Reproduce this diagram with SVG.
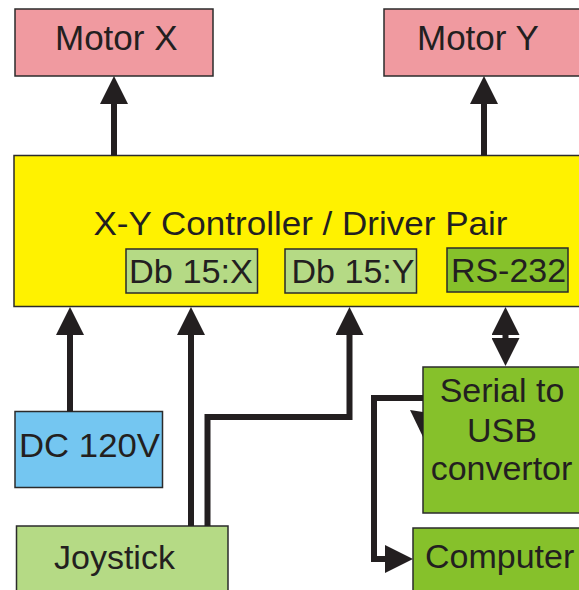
<svg xmlns="http://www.w3.org/2000/svg" width="579" height="590" viewBox="0 0 579 590">
  <defs>
    <style>
      .box { stroke: #2b2b2b; stroke-width: 1.5; }
      .pink { fill: #F09AA0; }
      .yellow { fill: #FFF200; }
      .lgreen { fill: #B5DA85; }
      .dgreen { fill: #86C12B; }
      .blue { fill: #74C6F1; }
      .lbl { font-family: "Liberation Sans", Arial, sans-serif; font-size: 34px; fill: #231F20; }
      .conn { fill: none; stroke: #231F20; stroke-width: 6; stroke-linejoin: miter; }
    </style>
    <marker id="ah" markerUnits="userSpaceOnUse" markerWidth="28" markerHeight="28" refX="0" refY="14" orient="auto-start-reverse" viewBox="0 0 28 28">
      <path d="M0,0 L28,14 L0,28 z" fill="#231F20"/>
    </marker>
  </defs>

  <g id="motor-x">
    <rect class="box pink" x="15" y="9" width="198" height="67"/>
    <text class="lbl" x="55" y="50" style="font-size:35px">Motor X</text>
  </g>
  <g id="motor-y">
    <rect class="box pink" x="384" y="9" width="200" height="67"/>
    <text class="lbl" x="417" y="50" style="font-size:35px">Motor Y</text>
  </g>

  <g id="controller">
    <rect class="box yellow" x="14" y="155.5" width="575" height="151"/>
    <text class="lbl" x="93.5" y="235" textLength="414" lengthAdjust="spacingAndGlyphs">X-Y Controller / Driver Pair</text>
  </g>
  <g id="db15x">
    <rect class="box lgreen" x="126" y="249" width="131.5" height="44"/>
    <text class="lbl" x="129" y="283" textLength="124" lengthAdjust="spacingAndGlyphs">Db 15:X</text>
  </g>
  <g id="db15y">
    <rect class="box lgreen" x="285" y="249" width="131.5" height="44"/>
    <text class="lbl" x="291.5" y="283" textLength="123" lengthAdjust="spacingAndGlyphs">Db 15:Y</text>
  </g>
  <g id="rs232">
    <rect class="box dgreen" x="447" y="248" width="121" height="44"/>
    <text class="lbl" x="451" y="281.5" textLength="115" lengthAdjust="spacingAndGlyphs">RS-232</text>
  </g>

  <g id="dc120v">
    <rect class="box blue" x="15" y="411.5" width="147.5" height="76"/>
    <text class="lbl" x="19" y="456.5" textLength="141" lengthAdjust="spacingAndGlyphs">DC 120V</text>
  </g>
  <g id="joystick">
    <rect class="box lgreen" x="16.5" y="526" width="211.5" height="70"/>
    <text class="lbl" x="54" y="568.5">Joystick</text>
  </g>
  <g id="serial-usb">
    <rect class="box dgreen" x="423" y="367" width="160" height="146"/>
    <text class="lbl" x="502" y="401.5" text-anchor="middle">Serial to</text>
    <text class="lbl" x="502" y="441.5" text-anchor="middle">USB</text>
    <text class="lbl" x="501.5" y="480" text-anchor="middle">convertor</text>
  </g>
  <g id="computer">
    <rect class="box dgreen" x="413" y="528" width="175" height="70"/>
    <text class="lbl" x="425" y="568">Computer</text>
  </g>

  <g id="connectors">
    <line class="conn" x1="114" y1="155.5" x2="114" y2="104" marker-end="url(#ah)"/>
    <line class="conn" x1="484" y1="155.5" x2="484" y2="104" marker-end="url(#ah)"/>
    <line class="conn" x1="70" y1="411.5" x2="70" y2="335" marker-end="url(#ah)"/>
    <line class="conn" x1="191" y1="526" x2="191" y2="335" marker-end="url(#ah)"/>
    <polyline class="conn" points="207.5,526 207.5,417 349.5,417 349.5,335" marker-end="url(#ah)"/>
    <line class="conn" x1="505.5" y1="338" x2="505.5" y2="335" marker-start="url(#ah)" marker-end="url(#ah)"/>
    <polyline class="conn" points="423,398 374,398 374,559 385,559" marker-end="url(#ah)"/>
    <polygon points="410,410 423,412 423,437" fill="#231F20"/>
  </g>
</svg>
